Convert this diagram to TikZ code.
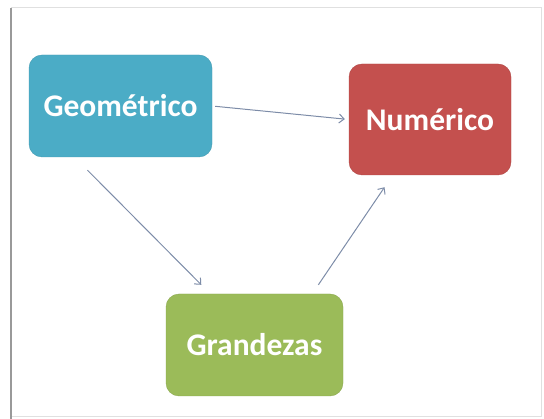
\documentclass[tikz,border=0pt]{standalone}
\usepackage{fontspec}
\setmainfont{Carlito}
\usepackage{tikz}
\usetikzlibrary{calc}
\usetikzlibrary{arrows.meta}
\definecolor{geoblue}{HTML}{4BACC6}
\definecolor{numred}{HTML}{C4504E}
\definecolor{grangreen}{HTML}{9BBB59}
\definecolor{linkgray}{HTML}{7D8CA8}
\def\BoxRound{13pt}
\def\BoxHeight{102pt}

\begin{document}
\begin{tikzpicture}[x=1pt,y=-1pt,
	box/.style={rounded corners=\BoxRound,inner sep=0pt,minimum height=\BoxHeight,text=white,font=\fontsize{31.5}{36}\selectfont\bfseries},
	link/.style={draw=linkgray,line width=1pt,-{Straight Barb[length=5pt,width=9pt]}}]
	\useasboundingbox (0,0) rectangle (544,419);
	% frame
	\draw[black!12,line width=1pt] (11,8) rectangle (541,417);
	\draw[black!40,line width=2pt] (11,8) -- (11,419);
	%
	\node[box,fill=geoblue,draw=geoblue!90!black,minimum width=183pt] (geo) at (120.5,106) {Geométrico};
	\node[box,fill=numred,draw=numred!90!black,minimum width=162pt,minimum height=111pt] (num) at (430,119.5) {Numérico};
	\node[box,fill=grangreen,draw=grangreen!90!black,minimum width=177pt] (gra) at (254.5,345) {Grandezas};
	%
	\coordinate (g1) at ($(geo.south west)!0.32!(geo.south east)+(0,13)$);
	\coordinate (g2) at ($(gra.north west)!0.2!(gra.north east)+(0,-9)$);
	\coordinate (g3) at ($(gra.north west)!0.86!(gra.north east)+(0,-9)$);
	\coordinate (n1) at ($(num.south west)!0.22!(num.south east)+(0,12)$);
	%
	\draw[link,shorten <=3pt,shorten >=4pt] (geo.east) -- (num.west);
	\draw[link] (g1) -- (g2);
	\draw[link] (g3) -- (n1);
\end{tikzpicture}
\end{document}
